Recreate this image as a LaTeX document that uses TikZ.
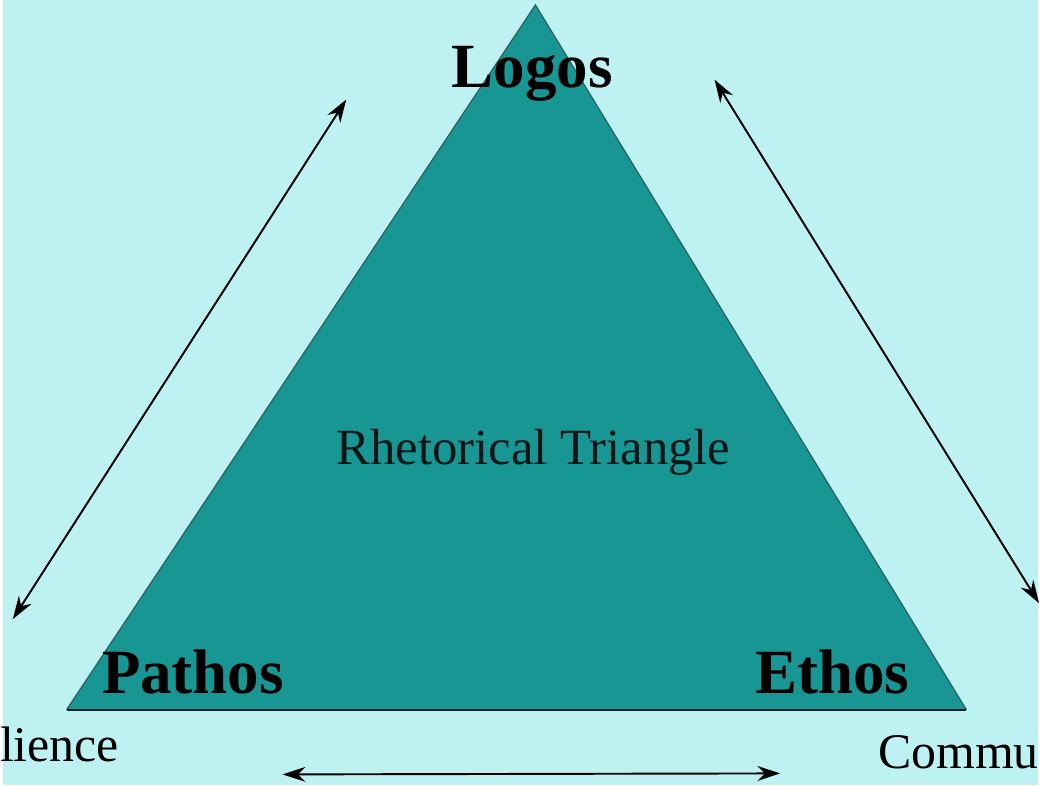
\documentclass[tikz,border=0pt]{standalone}
\usepackage{fontspec}
\setmainfont{Liberation Serif}
\usetikzlibrary{arrows.meta, positioning}
\definecolor{bgcyan}{RGB}{190,241,241}
\definecolor{tealfill}{RGB}{24,150,148}
\definecolor{tealedge}{RGB}{45,95,95}
\definecolor{darktext}{RGB}{5,22,22}
\tikzset{
    corner/.style={inner sep=0pt, anchor=base, font=\fontsize{36}{40}\selectfont\bfseries, text=black},
    caption/.style={inner sep=0pt, anchor=base, font=\fontsize{29}{34}\selectfont, text=darktext},
    sidetext/.style={inner sep=0pt, font=\fontsize{28.5}{34}\selectfont, text=black},
    darrow/.style={draw, {Stealth[length=0.46cm, width=0.3cm]}-{Stealth[length=0.46cm, width=0.3cm]}, line width=1.1pt, color=black}
}
\begin{document}
\begin{tikzpicture}[x=0.02cm, y=-0.02cm]
    \fill [bgcyan] (0,0) rectangle (1040,789);

    \coordinate (top) at (535,5);
    \coordinate (left) at (64,713);
    \coordinate (right) at (968,713);
    \fill [tealfill] (top) -- (left) -- (right) -- cycle;
    \draw [tealedge, line width=0.7pt] (left) -- (top) -- (right);
    \draw [black!70!tealedge, line width=1.2pt] (left) -- (right);

    \node [corner] (logos) at (532,88) {Logos};
    \node [corner] (pathos) at (191,697) {Pathos};
    \node [corner] (ethos) at (833,697) {Ethos};
    \node [caption] (title) at (533,467) {Rhetorical Triangle};

    \node [sidetext, anchor=base east] (aud) at (117,765) {lience};
    \node [sidetext, anchor=base west] (comm) at (879,772) {Commu};

    \coordinate (la) at (10,622);
    \coordinate (lb) at (345,100);
    \coordinate (ra) at (715,80);
    \coordinate (rb) at (1041,606);
    \coordinate (ba) at (281,778);
    \coordinate (bb) at (781,777);
    \draw [darrow] (la) -- (lb);
    \draw [darrow] (ra) -- (rb);
    \draw [darrow] (ba) -- (bb);
\end{tikzpicture}
\end{document}
